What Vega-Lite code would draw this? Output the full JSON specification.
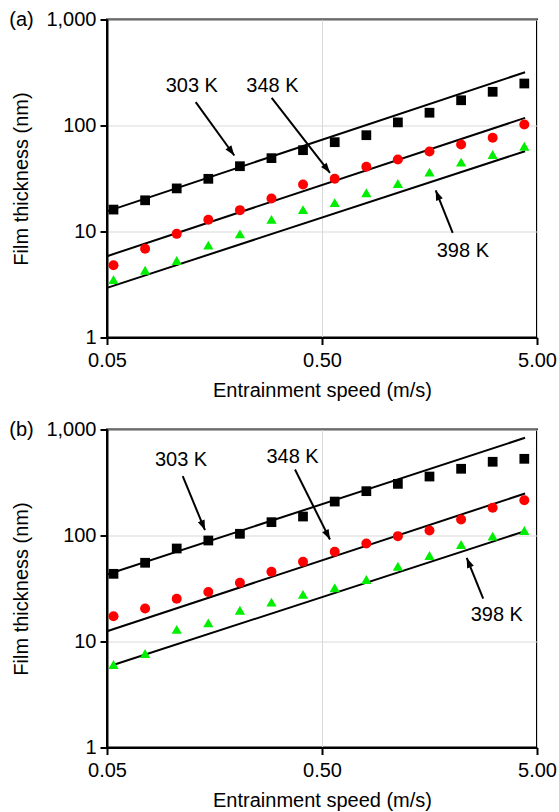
{
  "$schema": "https://vega.github.io/schema/vega-lite/v6.json",
  "padding": {"left": 8, "top": 8.5, "right": 0, "bottom": 0},
  "background": "white",
  "spacing": 17,
  "config": {
    "font": "Liberation Sans",
    "view": {"stroke": "black", "strokeWidth": 2},
    "axis": {
      "domainColor": "black", "domainWidth": 2,
      "tickColor": "black", "tickWidth": 2, "tickSize": 7,
      "labelFont": "Liberation Sans", "labelFontSize": 20, "labelColor": "black",
      "titleFont": "Liberation Sans", "titleFontSize": 20, "titleFontWeight": "normal", "titleColor": "black",
      "gridColor": "#d9d9d9", "gridWidth": 1, "labelFlush": false, "labelOverlap": false
    },
    "axisX": {"labelPadding": 6, "titlePadding": 10},
    "axisY": {"labelPadding": 4, "titlePadding": 14}
  },
  "datasets": {
    "points": [
      {"panel": "a", "temp": "303 K", "speed": 0.0536, "thickness": 16.1},
      {"panel": "a", "temp": "303 K", "speed": 0.0752, "thickness": 19.7},
      {"panel": "a", "temp": "303 K", "speed": 0.1055, "thickness": 25.5},
      {"panel": "a", "temp": "303 K", "speed": 0.148, "thickness": 31.4},
      {"panel": "a", "temp": "303 K", "speed": 0.2076, "thickness": 41.3},
      {"panel": "a", "temp": "303 K", "speed": 0.291, "thickness": 49.2},
      {"panel": "a", "temp": "303 K", "speed": 0.408, "thickness": 58.5},
      {"panel": "a", "temp": "303 K", "speed": 0.573, "thickness": 69.6},
      {"panel": "a", "temp": "303 K", "speed": 0.804, "thickness": 81},
      {"panel": "a", "temp": "303 K", "speed": 1.127, "thickness": 107},
      {"panel": "a", "temp": "303 K", "speed": 1.581, "thickness": 132},
      {"panel": "a", "temp": "303 K", "speed": 2.218, "thickness": 173},
      {"panel": "a", "temp": "303 K", "speed": 3.11, "thickness": 208},
      {"panel": "a", "temp": "303 K", "speed": 4.365, "thickness": 249},
      {"panel": "a", "temp": "348 K", "speed": 0.0536, "thickness": 4.81},
      {"panel": "a", "temp": "348 K", "speed": 0.0752, "thickness": 6.87},
      {"panel": "a", "temp": "348 K", "speed": 0.1055, "thickness": 9.5},
      {"panel": "a", "temp": "348 K", "speed": 0.148, "thickness": 12.9},
      {"panel": "a", "temp": "348 K", "speed": 0.2076, "thickness": 15.9},
      {"panel": "a", "temp": "348 K", "speed": 0.291, "thickness": 20.5},
      {"panel": "a", "temp": "348 K", "speed": 0.408, "thickness": 27.8},
      {"panel": "a", "temp": "348 K", "speed": 0.573, "thickness": 31.4},
      {"panel": "a", "temp": "348 K", "speed": 0.804, "thickness": 40.8},
      {"panel": "a", "temp": "348 K", "speed": 1.127, "thickness": 47.8},
      {"panel": "a", "temp": "348 K", "speed": 1.581, "thickness": 56.9},
      {"panel": "a", "temp": "348 K", "speed": 2.218, "thickness": 66.2},
      {"panel": "a", "temp": "348 K", "speed": 3.11, "thickness": 76.6},
      {"panel": "a", "temp": "348 K", "speed": 4.365, "thickness": 102},
      {"panel": "a", "temp": "398 K", "speed": 0.0536, "thickness": 3.52},
      {"panel": "a", "temp": "398 K", "speed": 0.0752, "thickness": 4.31},
      {"panel": "a", "temp": "398 K", "speed": 0.1055, "thickness": 5.33},
      {"panel": "a", "temp": "398 K", "speed": 0.148, "thickness": 7.43},
      {"panel": "a", "temp": "398 K", "speed": 0.2076, "thickness": 9.5},
      {"panel": "a", "temp": "398 K", "speed": 0.291, "thickness": 13.0},
      {"panel": "a", "temp": "398 K", "speed": 0.408, "thickness": 16.1},
      {"panel": "a", "temp": "398 K", "speed": 0.573, "thickness": 18.7},
      {"panel": "a", "temp": "398 K", "speed": 0.804, "thickness": 23.2},
      {"panel": "a", "temp": "398 K", "speed": 1.127, "thickness": 28.4},
      {"panel": "a", "temp": "398 K", "speed": 1.581, "thickness": 36.3},
      {"panel": "a", "temp": "398 K", "speed": 2.218, "thickness": 45.1},
      {"panel": "a", "temp": "398 K", "speed": 3.11, "thickness": 53.3},
      {"panel": "a", "temp": "398 K", "speed": 4.365, "thickness": 63.8},
      {"panel": "b", "temp": "303 K", "speed": 0.0536, "thickness": 43.5},
      {"panel": "b", "temp": "303 K", "speed": 0.0752, "thickness": 55.3},
      {"panel": "b", "temp": "303 K", "speed": 0.1055, "thickness": 75.4},
      {"panel": "b", "temp": "303 K", "speed": 0.148, "thickness": 89.7},
      {"panel": "b", "temp": "303 K", "speed": 0.2076, "thickness": 103.8},
      {"panel": "b", "temp": "303 K", "speed": 0.291, "thickness": 133.6},
      {"panel": "b", "temp": "303 K", "speed": 0.408, "thickness": 151},
      {"panel": "b", "temp": "303 K", "speed": 0.573, "thickness": 209},
      {"panel": "b", "temp": "303 K", "speed": 0.804, "thickness": 262},
      {"panel": "b", "temp": "303 K", "speed": 1.127, "thickness": 307},
      {"panel": "b", "temp": "303 K", "speed": 1.581, "thickness": 360},
      {"panel": "b", "temp": "303 K", "speed": 2.218, "thickness": 426},
      {"panel": "b", "temp": "303 K", "speed": 3.11, "thickness": 496},
      {"panel": "b", "temp": "303 K", "speed": 4.365, "thickness": 529},
      {"panel": "b", "temp": "348 K", "speed": 0.0536, "thickness": 17.3},
      {"panel": "b", "temp": "348 K", "speed": 0.0752, "thickness": 20.5},
      {"panel": "b", "temp": "348 K", "speed": 0.1055, "thickness": 25.3},
      {"panel": "b", "temp": "348 K", "speed": 0.148, "thickness": 29.3},
      {"panel": "b", "temp": "348 K", "speed": 0.2076, "thickness": 35.8},
      {"panel": "b", "temp": "348 K", "speed": 0.291, "thickness": 45.5},
      {"panel": "b", "temp": "348 K", "speed": 0.408, "thickness": 56.5},
      {"panel": "b", "temp": "348 K", "speed": 0.573, "thickness": 70.2},
      {"panel": "b", "temp": "348 K", "speed": 0.804, "thickness": 84.1},
      {"panel": "b", "temp": "348 K", "speed": 1.127, "thickness": 98.6},
      {"panel": "b", "temp": "348 K", "speed": 1.581, "thickness": 111.5},
      {"panel": "b", "temp": "348 K", "speed": 2.218, "thickness": 141.6},
      {"panel": "b", "temp": "348 K", "speed": 3.11, "thickness": 182.5},
      {"panel": "b", "temp": "348 K", "speed": 4.365, "thickness": 215},
      {"panel": "b", "temp": "398 K", "speed": 0.0536, "thickness": 6.07},
      {"panel": "b", "temp": "398 K", "speed": 0.0752, "thickness": 7.7},
      {"panel": "b", "temp": "398 K", "speed": 0.1055, "thickness": 13.0},
      {"panel": "b", "temp": "398 K", "speed": 0.148, "thickness": 15.0},
      {"panel": "b", "temp": "398 K", "speed": 0.2076, "thickness": 19.7},
      {"panel": "b", "temp": "398 K", "speed": 0.291, "thickness": 23.5},
      {"panel": "b", "temp": "398 K", "speed": 0.408, "thickness": 27.8},
      {"panel": "b", "temp": "398 K", "speed": 0.573, "thickness": 32.1},
      {"panel": "b", "temp": "398 K", "speed": 0.804, "thickness": 38.4},
      {"panel": "b", "temp": "398 K", "speed": 1.127, "thickness": 51.3},
      {"panel": "b", "temp": "398 K", "speed": 1.581, "thickness": 64.8},
      {"panel": "b", "temp": "398 K", "speed": 2.218, "thickness": 82.2},
      {"panel": "b", "temp": "398 K", "speed": 3.11, "thickness": 98.6},
      {"panel": "b", "temp": "398 K", "speed": 4.365, "thickness": 111.5}
    ],
    "lines": [
      {"panel": "a", "temp": "303 K", "speed": 0.05, "thickness": 15.5},
      {"panel": "a", "temp": "303 K", "speed": 4.4, "thickness": 318},
      {"panel": "a", "temp": "348 K", "speed": 0.05, "thickness": 5.85},
      {"panel": "a", "temp": "348 K", "speed": 4.4, "thickness": 118},
      {"panel": "a", "temp": "398 K", "speed": 0.05, "thickness": 2.94},
      {"panel": "a", "temp": "398 K", "speed": 4.4, "thickness": 57.2},
      {"panel": "b", "temp": "303 K", "speed": 0.05, "thickness": 42.9},
      {"panel": "b", "temp": "303 K", "speed": 4.4, "thickness": 835},
      {"panel": "b", "temp": "348 K", "speed": 0.05, "thickness": 12.5},
      {"panel": "b", "temp": "348 K", "speed": 4.4, "thickness": 249},
      {"panel": "b", "temp": "398 K", "speed": 0.0525, "thickness": 5.94},
      {"panel": "b", "temp": "398 K", "speed": 4.4, "thickness": 110}
    ],
    "labels": [
      {"panel": "a", "text": "303 K", "speed": 0.124, "thickness": 235},
      {"panel": "a", "text": "348 K", "speed": 0.294, "thickness": 235},
      {"panel": "a", "text": "398 K", "speed": 2.26, "thickness": 6.52},
      {"panel": "a", "text": "(a)", "speed": 0.02, "thickness": 1000},
      {"panel": "b", "text": "303 K", "speed": 0.1105, "thickness": 521},
      {"panel": "b", "text": "348 K", "speed": 0.3646, "thickness": 550},
      {"panel": "b", "text": "398 K", "speed": 3.25, "thickness": 17.8},
      {"panel": "b", "text": "(b)", "speed": 0.02, "thickness": 1000}
    ],
    "arrows": [
      {"panel": "a", "speed": 0.1293, "thickness": 165.9, "tipSpeed": 0.1955, "tipThickness": 52.1, "angle": 144},
      {"panel": "a", "speed": 0.2917, "thickness": 182.5, "tipSpeed": 0.5446, "tipThickness": 35.8, "angle": 142},
      {"panel": "a", "speed": 2.027, "thickness": 9.72, "tipSpeed": 1.69, "tipThickness": 24.4, "angle": 338},
      {"panel": "b", "speed": 0.1125, "thickness": 362.6, "tipSpeed": 0.1428, "tipThickness": 112.2, "angle": 158},
      {"panel": "b", "speed": 0.3745, "thickness": 419.4, "tipSpeed": 0.5446, "tipThickness": 91.7, "angle": 153},
      {"panel": "b", "speed": 2.81, "thickness": 25.4, "tipSpeed": 2.355, "tipThickness": 61.6, "angle": 338}
    ]
  },
  "vconcat": [
    {
      "width": 430, "height": 318,
      "layer": [
        {
          "data": {"name": "lines"},
          "transform": [{"filter": "datum.panel === 'a'"}],
          "mark": {"type": "line", "color": "black", "strokeWidth": 2},
          "encoding": {
            "x": {"field": "speed", "type": "quantitative", "scale": {"type": "log", "domain": [0.05, 5], "nice": false}, "axis": {"values": [0.05, 0.5, 5], "format": ".2f", "title": "Entrainment speed (m/s)"}},
            "y": {"field": "thickness", "type": "quantitative", "scale": {"type": "log", "domain": [1, 1000], "nice": false}, "axis": {"values": [1, 10, 100, 1000], "format": ",", "title": "Film thickness (nm)"}},
            "detail": {"field": "temp"}
          }
        },
        {
          "data": {"name": "points"},
          "transform": [{"filter": "datum.panel === 'a'"}],
          "mark": {"type": "point", "filled": true, "opacity": 1, "strokeWidth": 0},
          "encoding": {
            "x": {"field": "speed", "type": "quantitative"},
            "y": {"field": "thickness", "type": "quantitative"},
            "color": {"field": "temp", "type": "nominal", "scale": {"domain": ["303 K", "348 K", "398 K"], "range": ["#000000", "#ff0000", "#00ee00"]}, "legend": null},
            "shape": {"field": "temp", "type": "nominal", "scale": {"domain": ["303 K", "348 K", "398 K"], "range": ["square", "circle", "triangle-up"]}, "legend": null},
            "size": {"field": "temp", "type": "ordinal", "scale": {"domain": ["303 K", "348 K", "398 K"], "range": [95, 105, 160]}, "legend": null}
          }
        },
        {
          "data": {"name": "arrows"},
          "transform": [{"filter": "datum.panel === 'a'"}],
          "mark": {"type": "rule", "color": "black", "strokeWidth": 2},
          "encoding": {
            "x": {"field": "speed", "type": "quantitative"},
            "y": {"field": "thickness", "type": "quantitative"},
            "x2": {"field": "tipSpeed"},
            "y2": {"field": "tipThickness"}
          }
        },
        {
          "data": {"name": "arrows"},
          "transform": [{"filter": "datum.panel === 'a'"}],
          "mark": {"type": "point", "filled": true, "opacity": 1, "color": "black", "strokeWidth": 0, "shape": "M0,0L-0.36,1L0.36,1Z", "size": 400},
          "encoding": {
            "x": {"field": "tipSpeed", "type": "quantitative"},
            "y": {"field": "tipThickness", "type": "quantitative"},
            "angle": {"field": "angle", "type": "quantitative", "scale": null}
          }
        },
        {
          "data": {"name": "labels"},
          "transform": [{"filter": "datum.panel === 'a'"}],
          "mark": {"type": "text", "font": "Liberation Sans", "fontSize": 20, "color": "black", "align": "center", "baseline": "middle"},
          "encoding": {
            "x": {"field": "speed", "type": "quantitative"},
            "y": {"field": "thickness", "type": "quantitative"},
            "text": {"field": "text"}
          }
        }
      ]
    },
    {
      "width": 430, "height": 318,
      "layer": [
        {
          "data": {"name": "lines"},
          "transform": [{"filter": "datum.panel === 'b'"}],
          "mark": {"type": "line", "color": "black", "strokeWidth": 2},
          "encoding": {
            "x": {"field": "speed", "type": "quantitative", "scale": {"type": "log", "domain": [0.05, 5], "nice": false}, "axis": {"values": [0.05, 0.5, 5], "format": ".2f", "title": "Entrainment speed (m/s)"}},
            "y": {"field": "thickness", "type": "quantitative", "scale": {"type": "log", "domain": [1, 1000], "nice": false}, "axis": {"values": [1, 10, 100, 1000], "format": ",", "title": "Film thickness (nm)"}},
            "detail": {"field": "temp"}
          }
        },
        {
          "data": {"name": "points"},
          "transform": [{"filter": "datum.panel === 'b'"}],
          "mark": {"type": "point", "filled": true, "opacity": 1, "strokeWidth": 0},
          "encoding": {
            "x": {"field": "speed", "type": "quantitative"},
            "y": {"field": "thickness", "type": "quantitative"},
            "color": {"field": "temp", "type": "nominal", "scale": {"domain": ["303 K", "348 K", "398 K"], "range": ["#000000", "#ff0000", "#00ee00"]}, "legend": null},
            "shape": {"field": "temp", "type": "nominal", "scale": {"domain": ["303 K", "348 K", "398 K"], "range": ["square", "circle", "triangle-up"]}, "legend": null},
            "size": {"field": "temp", "type": "ordinal", "scale": {"domain": ["303 K", "348 K", "398 K"], "range": [95, 105, 160]}, "legend": null}
          }
        },
        {
          "data": {"name": "arrows"},
          "transform": [{"filter": "datum.panel === 'b'"}],
          "mark": {"type": "rule", "color": "black", "strokeWidth": 2},
          "encoding": {
            "x": {"field": "speed", "type": "quantitative"},
            "y": {"field": "thickness", "type": "quantitative"},
            "x2": {"field": "tipSpeed"},
            "y2": {"field": "tipThickness"}
          }
        },
        {
          "data": {"name": "arrows"},
          "transform": [{"filter": "datum.panel === 'b'"}],
          "mark": {"type": "point", "filled": true, "opacity": 1, "color": "black", "strokeWidth": 0, "shape": "M0,0L-0.36,1L0.36,1Z", "size": 400},
          "encoding": {
            "x": {"field": "tipSpeed", "type": "quantitative"},
            "y": {"field": "tipThickness", "type": "quantitative"},
            "angle": {"field": "angle", "type": "quantitative", "scale": null}
          }
        },
        {
          "data": {"name": "labels"},
          "transform": [{"filter": "datum.panel === 'b'"}],
          "mark": {"type": "text", "font": "Liberation Sans", "fontSize": 20, "color": "black", "align": "center", "baseline": "middle"},
          "encoding": {
            "x": {"field": "speed", "type": "quantitative"},
            "y": {"field": "thickness", "type": "quantitative"},
            "text": {"field": "text"}
          }
        }
      ]
    }
  ]
}
